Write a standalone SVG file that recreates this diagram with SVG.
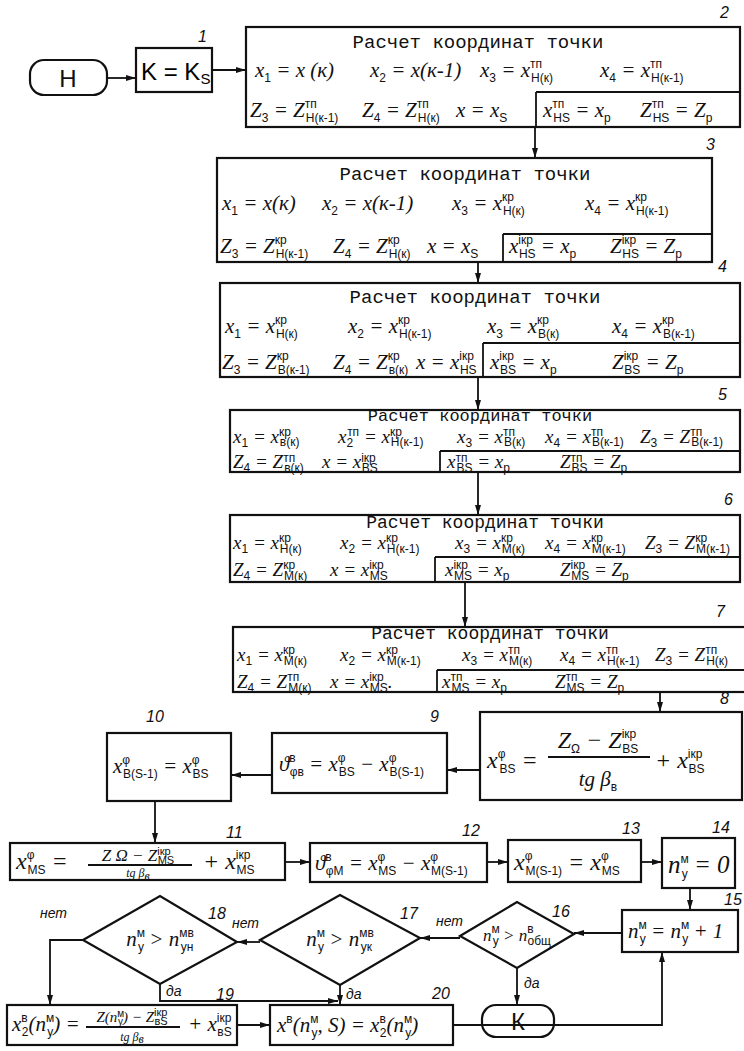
<svg xmlns="http://www.w3.org/2000/svg" width="744" height="1051" viewBox="0 0 744 1051">
<style>
.bx{fill:none;stroke:#111;stroke-width:2.2}
.ln{fill:none;stroke:#111;stroke-width:1.8}
.c{fill:none;stroke:#111;stroke-width:1.8;marker-end:url(#ah)}
.t{font-family:"Liberation Mono",monospace;font-size:19px;fill:#111;text-anchor:middle}
.f{font-family:"Liberation Serif",serif;font-style:italic;font-size:21px;fill:#111}
.f5{font-size:19px}
.s{font-size:12px;font-style:normal;font-family:"Liberation Sans",sans-serif}
.lb{font-family:"Liberation Sans",sans-serif;font-style:italic;font-size:16px;fill:#111}
.w{font-family:"Liberation Sans",sans-serif;font-style:italic;font-size:14px;fill:#111}
.tm{font-family:"Liberation Sans",sans-serif;font-size:24px;fill:#111;text-anchor:middle}
</style>
<defs>
<marker id="ah" viewBox="0 0 10 10" refX="10" refY="5" markerWidth="10" markerHeight="10" markerUnits="userSpaceOnUse" orient="auto"><path d="M0,2 L10,5 L0,8 z" fill="#111"/></marker>
</defs>
<rect width="744" height="1051" fill="#fff"/>

<g id="connectors">
<path class="c" d="M107,78 H136"/>
<path class="c" d="M212,70 H246"/>
<path class="c" d="M535,127 V158"/>
<path class="c" d="M478,262 V283"/>
<path class="c" d="M478,377 V410"/>
<path class="c" d="M478,472 V515"/>
<path class="c" d="M465,582 V627"/>
<path class="c" d="M660,692 V712"/>
<path class="c" d="M480,770 H447"/>
<path class="c" d="M272,775 H231"/>
<path class="c" d="M155,801 V843"/>
<path class="c" d="M285,862 H310"/>
<path class="c" d="M487,862 H508"/>
<path class="c" d="M641,862 H662"/>
<path class="c" d="M690,888 V910"/>
<path class="c" d="M622,933 H574"/>
<path class="c" d="M460,938 H420"/>
<path class="c" d="M260,942 H237"/>
<path class="c" d="M83,940 H50 V1005"/>
<path class="c" d="M160,984 V1001 H338"/>
<path class="c" d="M340,985 V1005"/>
<path class="c" d="M517,968 V1005"/>
<path class="c" d="M237,1025 H270"/>
<path class="c" d="M453,1025 H662 V952"/>
<text class="w" x="40" y="918">нет</text>
<text class="w" x="232" y="928">нет</text>
<text class="w" x="436" y="926">нет</text>
<text class="w" x="166" y="996">да</text>
<text class="w" x="346" y="999">да</text>
<text class="w" x="524" y="988">да</text>
</g>

<g id="start">
<rect class="bx" x="30" y="60" width="77" height="35" rx="14"/>
<text class="tm" x="68" y="87">Н</text>
</g>

<g id="n1">
<rect class="bx" x="136" y="48" width="76" height="44"/>
<text class="lb" x="198" y="42">1</text>
<text x="141" y="80" style="font-family:'Liberation Sans',sans-serif;font-size:24px">K = K<tspan dy="4" style="font-size:15px">S</tspan></text>
</g>

<g id="n2">
<rect class="bx" x="246" y="27" width="494" height="100"/>
<path class="ln" d="M536,92 H740 M536,92 V127"/>
<text class="lb" x="720" y="18">2</text>
<text class="t" x="478" y="48">Расчет координат точки</text>
<text class="f" x="255" y="77">x<tspan class="s" dy="5">1</tspan><tspan dy="-5"> = x (к)</tspan></text>
<text class="f" x="370" y="77">x<tspan class="s" dy="5">2</tspan><tspan dy="-5"> = x(к-1)</tspan></text>
<text class="f" x="480" y="77">x<tspan class="s" dy="5">3</tspan><tspan dy="-5"> = x</tspan><tspan class="s" dy="-9">тп</tspan><tspan class="s" dx="-11" dy="14">H(к)</tspan></text>
<text class="f" x="600" y="77">x<tspan class="s" dy="5">4</tspan><tspan dy="-5"> = x</tspan><tspan class="s" dy="-9">тп</tspan><tspan class="s" dx="-11" dy="14">H(к-1)</tspan></text>
<text class="f" x="250" y="117">Z<tspan class="s" dy="5">3</tspan><tspan dy="-5"> = Z</tspan><tspan class="s" dy="-9">тп</tspan><tspan class="s" dx="-11" dy="14">H(к-1)</tspan></text>
<text class="f" x="362" y="117">Z<tspan class="s" dy="5">4</tspan><tspan dy="-5"> = Z</tspan><tspan class="s" dy="-9">тп</tspan><tspan class="s" dx="-11" dy="14">H(к)</tspan></text>
<text class="f" x="456" y="117">x = x<tspan class="s" dy="5">S</tspan></text>
<text class="f" x="543" y="117">x<tspan class="s" dy="-9">тп</tspan><tspan class="s" dx="-11" dy="14">HS</tspan><tspan dy="-5"> = x</tspan><tspan class="s" dy="5">p</tspan></text>
<text class="f" x="640" y="117">Z<tspan class="s" dy="-9">тп</tspan><tspan class="s" dx="-11" dy="14">HS</tspan><tspan dy="-5"> = Z</tspan><tspan class="s" dy="5">p</tspan></text>
</g>

<g id="n3">
<rect class="bx" x="217" y="158" width="495" height="104"/>
<path class="ln" d="M503,234 H712 M503,234 V262"/>
<text class="lb" x="706" y="150">3</text>
<text class="t" x="465" y="180">Расчет координат точки</text>
<text class="f" x="222" y="210">x<tspan class="s" dy="5">1</tspan><tspan dy="-5"> = x(к)</tspan></text>
<text class="f" x="322" y="210">x<tspan class="s" dy="5">2</tspan><tspan dy="-5"> = x(к-1)</tspan></text>
<text class="f" x="452" y="210">x<tspan class="s" dy="5">3</tspan><tspan dy="-5"> = x</tspan><tspan class="s" dy="-9">кр</tspan><tspan class="s" dx="-11" dy="14">H(к)</tspan></text>
<text class="f" x="585" y="210">x<tspan class="s" dy="5">4</tspan><tspan dy="-5"> = x</tspan><tspan class="s" dy="-9">кр</tspan><tspan class="s" dx="-11" dy="14">H(к-1)</tspan></text>
<text class="f" x="220" y="253">Z<tspan class="s" dy="5">3</tspan><tspan dy="-5"> = Z</tspan><tspan class="s" dy="-9">кр</tspan><tspan class="s" dx="-11" dy="14">H(к-1)</tspan></text>
<text class="f" x="333" y="253">Z<tspan class="s" dy="5">4</tspan><tspan dy="-5"> = Z</tspan><tspan class="s" dy="-9">кр</tspan><tspan class="s" dx="-11" dy="14">H(к)</tspan></text>
<text class="f" x="427" y="253">x = x<tspan class="s" dy="5">S</tspan></text>
<text class="f" x="509" y="253">x<tspan class="s" dy="-9">iкр</tspan><tspan class="s" dx="-14" dy="14">HS</tspan><tspan dy="-5"> = x</tspan><tspan class="s" dy="5">p</tspan></text>
<text class="f" x="610" y="253">Z<tspan class="s" dy="-9">iкр</tspan><tspan class="s" dx="-14" dy="14">HS</tspan><tspan dy="-5"> = Z</tspan><tspan class="s" dy="5">p</tspan></text>
</g>

<g id="n4">
<rect class="bx" x="220" y="283" width="520" height="94"/>
<path class="ln" d="M483,343 H740 M483,343 V377"/>
<text class="lb" x="718" y="272">4</text>
<text class="t" x="475" y="303">Расчет координат точки</text>
<text class="f" x="225" y="333">x<tspan class="s" dy="5">1</tspan><tspan dy="-5"> = x</tspan><tspan class="s" dy="-9">кр</tspan><tspan class="s" dx="-11" dy="14">H(к)</tspan></text>
<text class="f" x="348" y="333">x<tspan class="s" dy="5">2</tspan><tspan dy="-5"> = x</tspan><tspan class="s" dy="-9">кр</tspan><tspan class="s" dx="-11" dy="14">H(к-1)</tspan></text>
<text class="f" x="487" y="333">x<tspan class="s" dy="5">3</tspan><tspan dy="-5"> = x</tspan><tspan class="s" dy="-9">кр</tspan><tspan class="s" dx="-11" dy="14">B(к)</tspan></text>
<text class="f" x="612" y="333">x<tspan class="s" dy="5">4</tspan><tspan dy="-5"> = x</tspan><tspan class="s" dy="-9">кр</tspan><tspan class="s" dx="-11" dy="14">B(к-1)</tspan></text>
<text class="f" x="222" y="369">Z<tspan class="s" dy="5">3</tspan><tspan dy="-5"> = Z</tspan><tspan class="s" dy="-9">кр</tspan><tspan class="s" dx="-11" dy="14">B(к-1)</tspan></text>
<text class="f" x="333" y="369">Z<tspan class="s" dy="5">4</tspan><tspan dy="-5"> = Z</tspan><tspan class="s" dy="-9">кр</tspan><tspan class="s" dx="-11" dy="14">в(к)</tspan></text>
<text class="f" x="416" y="369">x = x<tspan class="s" dy="-9">iкр</tspan><tspan class="s" dx="-14" dy="14">HS</tspan></text>
<text class="f" x="490" y="369">x<tspan class="s" dy="-9">iкр</tspan><tspan class="s" dx="-14" dy="14">BS</tspan><tspan dy="-5"> = x</tspan><tspan class="s" dy="5">p</tspan></text>
<text class="f" x="612" y="369">Z<tspan class="s" dy="-9">iкр</tspan><tspan class="s" dx="-14" dy="14">BS</tspan><tspan dy="-5"> = Z</tspan><tspan class="s" dy="5">p</tspan></text>
</g>

<g id="n5">
<rect class="bx" x="230" y="410" width="510" height="62"/>
<path class="ln" d="M440,451 H740 M440,451 V472"/>
<text class="lb" x="718" y="400">5</text>
<text class="t" x="480" y="421" style="font-size:17px">Расчет координат точки</text>
<text class="f f5" x="233" y="443">x<tspan class="s" dy="4">1</tspan><tspan dy="-4"> = x</tspan><tspan class="s" dy="-7">кр</tspan><tspan class="s" dx="-11" dy="10">в(к)</tspan></text>
<text class="f f5" x="338" y="443">x<tspan class="s" dy="4">2</tspan><tspan class="s" dx="-6" dy="-11">тп</tspan><tspan dy="7"> = x</tspan><tspan class="s" dy="-7">кр</tspan><tspan class="s" dx="-11" dy="10">H(к-1)</tspan></text>
<text class="f f5" x="457" y="443">x<tspan class="s" dy="4">3</tspan><tspan dy="-4"> = x</tspan><tspan class="s" dy="-7">тп</tspan><tspan class="s" dx="-11" dy="10">B(к)</tspan></text>
<text class="f f5" x="545" y="443">x<tspan class="s" dy="4">4</tspan><tspan dy="-4"> = x</tspan><tspan class="s" dy="-7">тп</tspan><tspan class="s" dx="-11" dy="10">B(к-1)</tspan></text>
<text class="f f5" x="640" y="443">Z<tspan class="s" dy="4">3</tspan><tspan dy="-4"> = Z</tspan><tspan class="s" dy="-7">тп</tspan><tspan class="s" dx="-11" dy="10">B(к-1)</tspan></text>
<text class="f f5" x="233" y="468">Z<tspan class="s" dy="4">4</tspan><tspan dy="-4"> = Z</tspan><tspan class="s" dy="-6">тп</tspan><tspan class="s" dx="-11" dy="10">в(к)</tspan></text>
<text class="f f5" x="322" y="468">x = x<tspan class="s" dy="-6">iкр</tspan><tspan class="s" dx="-14" dy="10">BS</tspan></text>
<text class="f f5" x="447" y="468">x<tspan class="s" dy="-6">тп</tspan><tspan class="s" dx="-11" dy="10">BS</tspan><tspan dy="-4"> = x</tspan><tspan class="s" dy="4">p</tspan></text>
<text class="f f5" x="560" y="468">Z<tspan class="s" dy="-6">тп</tspan><tspan class="s" dx="-11" dy="10">BS</tspan><tspan dy="-4">  =  Z</tspan><tspan class="s" dy="4">p</tspan></text>
</g>

<g id="n6">
<rect class="bx" x="230" y="515" width="510" height="67"/>
<path class="ln" d="M435,557 H740 M435,557 V582"/>
<text class="lb" x="724" y="505">6</text>
<text class="t" x="485" y="528" style="font-size:18px">Расчет координат точки</text>
<text class="f f5" x="233" y="549">x<tspan class="s" dy="4">1</tspan><tspan dy="-4"> = x</tspan><tspan class="s" dy="-7">кр</tspan><tspan class="s" dx="-11" dy="11">H(к)</tspan></text>
<text class="f f5" x="340" y="549">x<tspan class="s" dy="4">2</tspan><tspan dy="-4"> = x</tspan><tspan class="s" dy="-7">кр</tspan><tspan class="s" dx="-11" dy="11">H(к-1)</tspan></text>
<text class="f f5" x="455" y="549">x<tspan class="s" dy="4">3</tspan><tspan dy="-4"> = x</tspan><tspan class="s" dy="-7">кр</tspan><tspan class="s" dx="-11" dy="11">M(к)</tspan></text>
<text class="f f5" x="545" y="549">x<tspan class="s" dy="4">4</tspan><tspan dy="-4"> = x</tspan><tspan class="s" dy="-7">кр</tspan><tspan class="s" dx="-11" dy="11">M(к-1)</tspan></text>
<text class="f f5" x="645" y="549">Z<tspan class="s" dy="4">3</tspan><tspan dy="-4"> = Z</tspan><tspan class="s" dy="-7">кр</tspan><tspan class="s" dx="-11" dy="11">M(к-1)</tspan></text>
<text class="f f5" x="233" y="576">Z<tspan class="s" dy="4">4</tspan><tspan dy="-4"> = Z</tspan><tspan class="s" dy="-7">кр</tspan><tspan class="s" dx="-11" dy="11">M(к)</tspan></text>
<text class="f f5" x="330" y="576">x = x<tspan class="s" dy="-7">iкр</tspan><tspan class="s" dx="-14" dy="11">MS</tspan></text>
<text class="f f5" x="445" y="576">x<tspan class="s" dy="-7">iкр</tspan><tspan class="s" dx="-14" dy="11">MS</tspan><tspan dy="-4"> = x</tspan><tspan class="s" dy="4">p</tspan></text>
<text class="f f5" x="560" y="576">Z<tspan class="s" dy="-7">iкр</tspan><tspan class="s" dx="-14" dy="11">MS</tspan><tspan dy="-4"> = Z</tspan><tspan class="s" dy="4">p</tspan></text>
</g>

<g id="n7">
<rect class="bx" x="233" y="627" width="514" height="65"/>
<path class="ln" d="M437,670 H744 M437,670 V692"/>
<text class="lb" x="716" y="617">7</text>
<text class="t" x="490" y="639" style="font-size:18px">Расчет координат точки</text>
<text class="f f5" x="237" y="661">x<tspan class="s" dy="4">1</tspan><tspan dy="-4"> = x</tspan><tspan class="s" dy="-7">кр</tspan><tspan class="s" dx="-11" dy="11">M(к)</tspan></text>
<text class="f f5" x="340" y="661">x<tspan class="s" dy="4">2</tspan><tspan dy="-4"> = x</tspan><tspan class="s" dy="-7">кр</tspan><tspan class="s" dx="-11" dy="11">M(к-1)</tspan></text>
<text class="f f5" x="462" y="661">x<tspan class="s" dy="4">3</tspan><tspan dy="-4"> = x</tspan><tspan class="s" dy="-7">тп</tspan><tspan class="s" dx="-11" dy="11">M(к)</tspan></text>
<text class="f f5" x="560" y="661">x<tspan class="s" dy="4">4</tspan><tspan dy="-4"> = x</tspan><tspan class="s" dy="-7">тп</tspan><tspan class="s" dx="-11" dy="11">H(к-1)</tspan></text>
<text class="f f5" x="655" y="661">Z<tspan class="s" dy="4">3</tspan><tspan dy="-4"> = Z</tspan><tspan class="s" dy="-7">тп</tspan><tspan class="s" dx="-11" dy="11">H(к)</tspan></text>
<text class="f f5" x="237" y="688">Z<tspan class="s" dy="4">4</tspan><tspan dy="-4"> = Z</tspan><tspan class="s" dy="-7">тп</tspan><tspan class="s" dx="-11" dy="11">M(к)</tspan></text>
<text class="f f5" x="330" y="688">x = x<tspan class="s" dy="-7">iкр</tspan><tspan class="s" dx="-14" dy="11">MS</tspan><tspan dy="-4">.</tspan></text>
<text class="f f5" x="442" y="688">x<tspan class="s" dy="-7">тп</tspan><tspan class="s" dx="-11" dy="11">MS</tspan><tspan dy="-4"> = x</tspan><tspan class="s" dy="4">p</tspan></text>
<text class="f f5" x="555" y="688">Z<tspan class="s" dy="-7">тп</tspan><tspan class="s" dx="-11" dy="11">MS</tspan><tspan dy="-4"> = Z</tspan><tspan class="s" dy="4">p</tspan></text>
</g>

<g id="n8">
<rect class="bx" x="480" y="712" width="262" height="88"/>
<text class="lb" x="720" y="704">8</text>
<text class="f" x="487" y="768" style="font-size:24px">x<tspan class="s" dy="-10">φ</tspan><tspan class="s" dx="-6" dy="15">BS</tspan><tspan dy="-5"> =</tspan></text>
<text class="f" x="598" y="748" text-anchor="middle" style="font-size:24px">Z<tspan class="s" dy="5">Ω</tspan><tspan dy="-5"> − Z</tspan><tspan class="s" dy="-10">iкр</tspan><tspan class="s" dx="-14" dy="15">BS</tspan></text>
<path class="ln" d="M548,757 H650"/>
<text class="f" x="598" y="786" text-anchor="middle">tg β<tspan class="s" dy="5">в</tspan></text>
<text class="f" x="655" y="768" style="font-size:24px">+ x<tspan class="s" dy="-10">iкр</tspan><tspan class="s" dx="-14" dy="15">BS</tspan></text>
</g>

<g id="n9">
<rect class="bx" x="272" y="733" width="175" height="60"/>
<text class="lb" x="430" y="722">9</text>
<text class="f" x="279" y="771">ϑ<tspan class="s" dy="-9">в</tspan><tspan class="s" dx="-6" dy="14">φв</tspan><tspan dy="-5"> = x</tspan><tspan class="s" dy="-9">φ</tspan><tspan class="s" dx="-7" dy="14">BS</tspan><tspan dy="-5"> − x</tspan><tspan class="s" dy="-9">φ</tspan><tspan class="s" dx="-7" dy="14">B(S-1)</tspan></text>
</g>

<g id="n10">
<rect class="bx" x="107" y="733" width="124" height="68"/>
<text class="lb" x="146" y="722">10</text>
<text class="f" x="113" y="773">x<tspan class="s" dy="-9">φ</tspan><tspan class="s" dx="-7" dy="14">B(S-1)</tspan><tspan dy="-5"> = x</tspan><tspan class="s" dy="-9">φ</tspan><tspan class="s" dx="-7" dy="14">BS</tspan></text>
</g>

<g id="n11">
<rect class="bx" x="10" y="843" width="275" height="37"/>
<text class="lb" x="226" y="838">11</text>
<text class="f" x="16" y="869" style="font-size:24px">x<tspan class="s" dy="-10">φ</tspan><tspan class="s" dx="-7" dy="15">MS</tspan><tspan dy="-5"> =</tspan></text>
<text class="f" x="138" y="861" text-anchor="middle" style="font-size:17px">Z Ω − Z<tspan class="s" dy="-6" style="font-size:11px">iкр</tspan><tspan class="s" dx="-13" dy="9" style="font-size:11px">MS</tspan></text>
<path class="ln" d="M88,865 H192"/>
<text class="f" x="138" y="877" text-anchor="middle" style="font-size:12px">tg β<tspan dy="3">в</tspan></text>
<text class="f" x="203" y="869" style="font-size:24px">+ x<tspan class="s" dy="-10">iкр</tspan><tspan class="s" dx="-14" dy="15">MS</tspan></text>
</g>

<g id="n12">
<rect class="bx" x="310" y="843" width="177" height="39"/>
<text class="lb" x="462" y="836">12</text>
<text class="f" x="315" y="870">ϑ<tspan class="s" dy="-9">в</tspan><tspan class="s" dx="-6" dy="14">φM</tspan><tspan dy="-5"> = x</tspan><tspan class="s" dy="-9">φ</tspan><tspan class="s" dx="-7" dy="14">MS</tspan><tspan dy="-5"> − x</tspan><tspan class="s" dy="-9">φ</tspan><tspan class="s" dx="-7" dy="14">M(S-1)</tspan></text>
</g>

<g id="n13">
<rect class="bx" x="508" y="840" width="133" height="42"/>
<text class="lb" x="622" y="834">13</text>
<text class="f" x="514" y="870" style="font-size:24px">x<tspan class="s" dy="-10">φ</tspan><tspan class="s" dx="-7" dy="15">M(S-1)</tspan><tspan dy="-5"> = x</tspan><tspan class="s" dy="-10">φ</tspan><tspan class="s" dx="-7" dy="15">MS</tspan></text>
</g>

<g id="n14">
<rect class="bx" x="662" y="838" width="73" height="50"/>
<text class="lb" x="712" y="833">14</text>
<text class="f" x="668" y="873" style="font-size:25px">n<tspan class="s" dy="-10">м</tspan><tspan class="s" dx="-7" dy="15">y</tspan><tspan dy="-5"> = 0</tspan></text>
</g>

<g id="n15">
<rect class="bx" x="622" y="910" width="116" height="42"/>
<text class="lb" x="724" y="905">15</text>
<text class="f" x="628" y="938">n<tspan class="s" dy="-9">м</tspan><tspan class="s" dx="-7" dy="14">y</tspan><tspan dy="-5"> = n</tspan><tspan class="s" dy="-9">м</tspan><tspan class="s" dx="-7" dy="14">y</tspan><tspan dy="-5"> + 1</tspan></text>
</g>

<g id="n16">
<path class="bx" d="M460,936 L517,902 L574,934 L517,968 Z"/>
<text class="lb" x="552" y="917">16</text>
<text class="f" x="517" y="941" text-anchor="middle" style="font-size:17px">n<tspan class="s" dy="-8">м</tspan><tspan class="s" dx="-7" dy="12">y</tspan><tspan dy="-4"> &gt; n</tspan><tspan class="s" dy="-8">в</tspan><tspan class="s" dx="-6" dy="12">общ</tspan></text>
</g>

<g id="n17">
<path class="bx" d="M260,940 L340,895 L420,938 L340,985 Z"/>
<text class="lb" x="400" y="919">17</text>
<text class="f" x="340" y="946" text-anchor="middle">n<tspan class="s" dy="-9">м</tspan><tspan class="s" dx="-7" dy="14">y</tspan><tspan dy="-5"> &gt; n</tspan><tspan class="s" dy="-9">мв</tspan><tspan class="s" dx="-13" dy="14">yк</tspan></text>
</g>

<g id="n18">
<path class="bx" d="M83,940 L160,896 L237,942 L160,984 Z"/>
<text class="lb" x="208" y="919">18</text>
<text class="f" x="160" y="946" text-anchor="middle">n<tspan class="s" dy="-9">м</tspan><tspan class="s" dx="-7" dy="14">y</tspan><tspan dy="-5"> &gt; n</tspan><tspan class="s" dy="-9">мв</tspan><tspan class="s" dx="-13" dy="14">yн</tspan></text>
</g>

<g id="end">
<rect class="bx" x="482" y="1005" width="72" height="32" rx="14"/>
<text class="tm" x="518" y="1030">К</text>
</g>

<g id="n19">
<rect class="bx" x="7" y="1005" width="230" height="40"/>
<text class="lb" x="216" y="1000">19</text>
<text class="f" x="12" y="1031">x<tspan class="s" dy="-9">в</tspan><tspan class="s" dx="-6" dy="14">2</tspan><tspan dy="-5">(n</tspan><tspan class="s" dy="-9">м</tspan><tspan class="s" dx="-7" dy="14">y</tspan><tspan dy="-5">) =</tspan></text>
<text class="f" x="132" y="1022" text-anchor="middle" style="font-size:15px">Z(n<tspan class="s" dy="-5" style="font-size:10px">м</tspan><tspan class="s" dx="-6" dy="8" style="font-size:10px">y</tspan><tspan dy="-3">) − Z</tspan><tspan class="s" dy="-6" style="font-size:11px">iкр</tspan><tspan class="s" dx="-13" dy="9" style="font-size:11px">вS</tspan></text>
<path class="ln" d="M86,1027 H180"/>
<text class="f" x="132" y="1041" text-anchor="middle" style="font-size:12px">tg β<tspan dy="2">в</tspan></text>
<text class="f" x="188" y="1031">+ x<tspan class="s" dy="-9">iкр</tspan><tspan class="s" dx="-14" dy="14">вS</tspan></text>
</g>

<g id="n20">
<rect class="bx" x="270" y="1005" width="183" height="40"/>
<text class="lb" x="432" y="999">20</text>
<text class="f" x="277" y="1032">x<tspan class="s" dy="-9">в</tspan><tspan dy="9">(n</tspan><tspan class="s" dy="-9">м</tspan><tspan class="s" dx="-7" dy="14">y</tspan><tspan dy="-5">, S) = x</tspan><tspan class="s" dy="-9">в</tspan><tspan class="s" dx="-6" dy="14">2</tspan><tspan dy="-5">(n</tspan><tspan class="s" dy="-9">м</tspan><tspan class="s" dx="-7" dy="14">y</tspan><tspan dy="-5">)</tspan></text>
</g>
</svg>
